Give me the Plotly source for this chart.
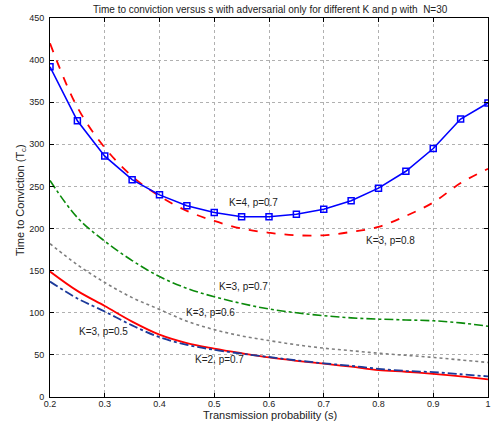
import plotly.graph_objects as go

s_values = [0.2, 0.25, 0.3, 0.35, 0.4, 0.45, 0.5, 0.55, 0.6, 0.65, 0.7, 0.75, 0.8, 0.85, 0.9, 0.95, 1.0]

k4_p07 = [392, 328, 286, 258, 240, 227, 219, 214, 214, 217, 223, 233, 248, 268, 295, 330, 349]
k3_p08 = [420, 344, 296, 262, 238.5, 221, 209, 200, 195, 192, 192, 196, 202, 215, 231, 254, 271]
k3_p07 = [257, 213, 185, 162, 143, 129, 119, 111, 104.5, 100, 96.5, 94, 92.5, 91.5, 90.5, 88, 84]
k3_p06 = [182, 157, 136, 118, 104, 90, 80, 72.5, 67, 62, 58, 55, 52, 49.5, 47, 44, 41]
k2_p07 = [149, 126, 108, 89.5, 74, 64, 57.5, 52, 47, 43, 39.5, 36, 32, 30, 27.5, 24.5, 21]
k3_p05 = [137, 117, 101.5, 85, 71, 62, 56, 51.5, 47.5, 43.5, 40, 37, 33.5, 31, 29.5, 27, 24.5]

labels = ["K=4, p=0.7", "K=3, p=0.8", "K=3, p=0.7", "K=3, p=0.6", "K=3, p=0.5", "K=2, p=0.7"]
label_x = [0.572, 0.821, 0.553, 0.494, 0.297, 0.51]
label_y = [231, 186, 131, 100, 78, 45]

x_ticks = [0.2, 0.3, 0.4, 0.5, 0.6, 0.7, 0.8, 0.9, 1.0]
x_tick_text = ["0.2", "0.3", "0.4", "0.5", "0.6", "0.7", "0.8", "0.9", "1"]
y_ticks = [0, 50, 100, 150, 200, 250, 300, 350, 400, 450]

FONT = "Liberation Sans, Arial, sans-serif"
W, H = 493, 421
ML, MR, MT, MB = 50, 5, 18, 24

fig = go.Figure()
fig.add_trace(go.Scatter(x=s_values, y=k2_p07, mode="lines", line=dict(color="#ff0000", width=1.8, shape="spline")))
fig.add_trace(go.Scatter(x=s_values, y=k3_p05, mode="lines", line=dict(color="#1c3a9a", width=1.8, dash="dashdot", shape="spline")))
fig.add_trace(go.Scatter(x=s_values, y=k3_p06, mode="lines", line=dict(color="#7f7f7f", width=1.6, dash="dot", shape="spline")))
fig.add_trace(go.Scatter(x=s_values, y=k3_p07, mode="lines", line=dict(color="#0a8a0a", width=1.6, dash="dashdot", shape="spline")))
fig.add_trace(go.Scatter(x=s_values, y=k3_p08, mode="lines", line=dict(color="#ff0000", width=1.8, dash="dash", shape="spline")))
fig.add_trace(go.Scatter(x=s_values, y=k4_p07, mode="lines+markers",
                         line=dict(color="#0000ff", width=1.6),
                         marker=dict(symbol="square-open", size=6, color="#0000ff", line=dict(width=1.5))))

for t, xx, yy in zip(labels, label_x, label_y):
    fig.add_annotation(x=xx, y=yy, xref="x", yref="y", text=t, showarrow=False,
                       font=dict(family=FONT, size=10, color="#222222"))

pw = W - ML - MR
ph = H - MT - MB
# title
fig.add_annotation(x=(270 - ML) / pw, y=1 + (MT - 9) / ph, xref="paper", yref="paper",
                   text="Time to conviction versus s with adversarial only for different K and p with  N=30",
                   showarrow=False, xanchor="center", yanchor="middle",
                   font=dict(family=FONT, size=10, color="#222222"))
# x title
fig.add_annotation(x=(270 - ML) / pw, y=-(414.5 - (H - MB)) / ph, xref="paper", yref="paper",
                   text="Transmission probability (s)", showarrow=False,
                   xanchor="center", yanchor="middle",
                   font=dict(family=FONT, size=11, color="#222222"))
# y title
fig.add_annotation(x=-(ML - 21) / pw, y=(H - MB - 200) / ph, xref="paper", yref="paper",
                   text="Time to Conviction (T<sub>c</sub>)", showarrow=False, textangle=-90,
                   xanchor="center", yanchor="middle",
                   font=dict(family=FONT, size=11, color="#222222"))

fig.update_layout(
    width=W, height=H,
    margin=dict(l=ML, r=MR, t=MT, b=MB, autoexpand=False),
    paper_bgcolor="white", plot_bgcolor="white",
    showlegend=False,
    font=dict(family=FONT, size=9, color="#222222"),
)
fig.update_xaxes(range=[0.2, 1.0], tickvals=x_ticks, ticktext=x_tick_text,
                 showgrid=True, gridcolor="#b0b0b0", griddash="dot", gridwidth=1,
                 showline=True, linecolor="black", linewidth=1, mirror="ticks",
                 ticks="inside", ticklen=4, tickcolor="black", zeroline=False,
                 tickfont=dict(size=9), automargin=False, ticklabelstandoff=-2)
fig.update_yaxes(range=[0, 450], tickvals=y_ticks,
                 showgrid=True, gridcolor="#b0b0b0", griddash="dot", gridwidth=1,
                 showline=True, linecolor="black", linewidth=1, mirror="ticks",
                 ticks="inside", ticklen=4, tickcolor="black", zeroline=False,
                 tickfont=dict(size=9), automargin=False, ticklabelstandoff=3)

fig.write_html("out.html", config={"displayModeBar": False},
               post_script="document.body.style.margin='0';document.body.style.padding='0';document.body.style.overflow='hidden';")
